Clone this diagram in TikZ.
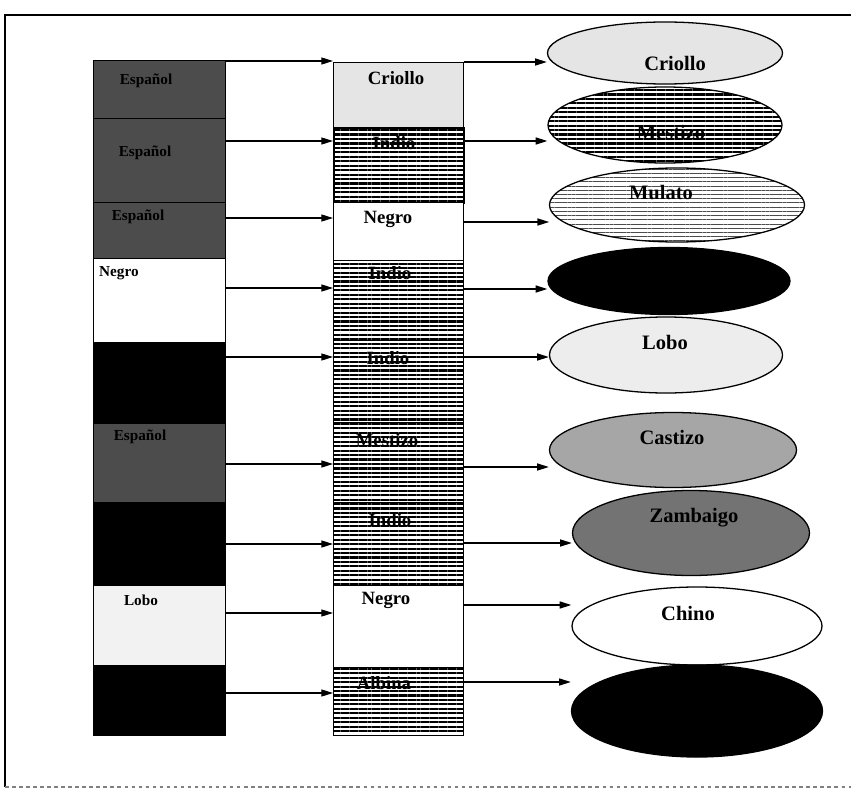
\documentclass[tikz,border=0pt]{standalone}
\usepackage{fontspec}
\setmainfont{Liberation Serif}
\usetikzlibrary{shapes.geometric,arrows.meta,patterns.meta}

\begin{document}
\begin{tikzpicture}[
  x=0.03cm, y=-0.03cm,
  lcell/.style={rectangle, draw=black, line width=1.1pt, anchor=north west,
                minimum width=3.96cm, inner sep=0pt},
  mcell/.style={rectangle, draw=black, line width=1.1pt, anchor=north west,
                minimum width=3.9cm, inner sep=0pt},
  stripes/.style={pattern={Lines[angle=0,distance=3.8pt,line width=1.8pt]},
                  pattern color=black},
  thinstripes/.style={pattern={Lines[angle=0,distance=3.6pt,line width=0.5pt]},
                  pattern color=black!70},
  cast/.style={ellipse, draw=black, line width=1.1pt, inner sep=0pt},
  ltxt/.style={font=\fontsize{13}{15}\selectfont\bfseries, inner sep=0pt},
  mtxt/.style={font=\fontsize{16}{18}\selectfont\bfseries, inner sep=0pt},
  etxt/.style={font=\fontsize{17.5}{20}\selectfont\bfseries, inner sep=0pt},
  arr/.style={-{Triangle[length=10pt,width=6pt]}, line width=1.1pt}
]
\useasboundingbox (0,0) rectangle (851,789);

% frame
\draw[line width=1pt] (5,787) -- (5,15) -- (851,15);
\draw[gray, line width=1pt, dashed] (5,787) -- (851,787);

% left column
\node[lcell, fill=black!70, minimum height=1.74cm] (l1) at (93,60)  {};
\node[lcell, fill=black!70, minimum height=2.52cm] (l2) at (93,118) {};
\node[lcell, fill=black!70, minimum height=1.68cm] (l3) at (93,202) {};
\node[lcell, fill=white,    minimum height=2.52cm] (l4) at (93,258) {};
\node[lcell, fill=black,    minimum height=2.43cm] (l5) at (93,342) {};
\node[lcell, fill=black!70, minimum height=2.37cm] (l6) at (93,423) {};
\node[lcell, fill=black,    minimum height=2.49cm] (l7) at (93,502) {};
\node[lcell, fill=black!5,  minimum height=2.40cm] (l8) at (93,585) {};
\node[lcell, fill=black,    minimum height=2.10cm] (l9) at (93,665) {};

\node[ltxt] (lt1) at (146,81)  {Español};
\node[ltxt] (lt2) at (145,153) {Español};
\node[ltxt] (lt3) at (138,217) {Español};
\node[ltxt, anchor=west] (lt4) at (99,273) {Negro};
\node[ltxt] (lt6) at (140,437) {Español};
\node[ltxt] (lt8) at (141,600) {Lobo};

% middle column
\node[mcell, fill=black!10,  minimum height=1.95cm] (m1) at (333,62)  {};
\node[mcell, stripes,        minimum height=2.25cm] (m2) at (333,127) {};
\node[mcell, fill=white,     minimum height=1.74cm] (m3) at (333,202) {};
\node[mcell, stripes,        minimum height=2.40cm] (m4) at (333,260) {};
\node[mcell, stripes,        minimum height=2.46cm] (m5) at (333,340) {};
\node[mcell, stripes,        minimum height=2.40cm] (m6) at (333,422) {};
\node[mcell, stripes,        minimum height=2.49cm] (m7) at (333,502) {};
\node[mcell, fill=white,     minimum height=2.46cm] (m8) at (333,585) {};
\node[mcell, stripes,        minimum height=2.04cm] (m9) at (333,667) {};

\node[mtxt] (mt1) at (396,78)  {Criollo};
\node[mtxt] (mt2) at (394,143) {Indio};
\node[mtxt] (mt3) at (388,219) {Negro};
\node[mtxt] (mt4) at (390,273) {Indio};
\node[mtxt] (mt5) at (388,358) {Indio};
\node[mtxt] (mt6) at (387,440) {Mestizo};
\node[mtxt] (mt7) at (390,520) {Indio};
\node[mtxt] (mt8) at (386,600) {Negro};
\node[mtxt] (mt9) at (384,683) {Albina};

% castas
\node[cast, fill=black!10, minimum width=7.05cm, minimum height=1.86cm] (e1) at (665,53)  {};
\node[cast, stripes,       minimum width=7.02cm, minimum height=2.28cm] (e2) at (665,125) {};
\node[cast, thinstripes,   minimum width=7.65cm, minimum height=2.22cm] (e3) at (677,205) {};
\node[cast, fill=black,    minimum width=7.26cm, minimum height=2.01cm] (e4) at (669,281) {};
\node[cast, fill=black!7,  minimum width=6.99cm, minimum height=2.28cm] (e5) at (666,355) {};
\node[cast, fill=black!35, minimum width=7.41cm, minimum height=2.25cm] (e6) at (673,450) {};
\node[cast, fill=black!55, minimum width=7.11cm, minimum height=2.55cm] (e7) at (691,533) {};
\node[cast, fill=white,    minimum width=7.50cm, minimum height=2.34cm] (e8) at (697,626) {};
\node[cast, fill=black,    minimum width=7.53cm, minimum height=2.76cm] (e9) at (697,711) {};

\node[etxt] (et1) at (675,63)  {Criollo};
\node[etxt] (et2) at (671,132) {Mestizo};
\node[etxt] (et3) at (661,193) {Mulato};
\node[etxt] (et5) at (665,342) {Lobo};
\node[etxt] (et6) at (672,437) {Castizo};
\node[etxt] (et7) at (694,518) {Zambaigo};
\node[etxt] (et8) at (688,613) {Chino};

% arrows
\foreach \i/\ya/\yb in {1/61/62, 2/141/141, 3/218/222, 4/288/289, 5/357/357,
                        6/464/467, 7/544/543, 8/613/605, 9/693/682} {
  \coordinate (a\i) at (0,\ya);
  \coordinate (b\i) at (0,\yb);
  \draw[arr] (l\i.east |- a\i) -- (m\i.west |- a\i);
  \draw[arr] (m\i.east |- b\i) -- (e\i.west |- b\i);
}

\end{tikzpicture}
\end{document}
